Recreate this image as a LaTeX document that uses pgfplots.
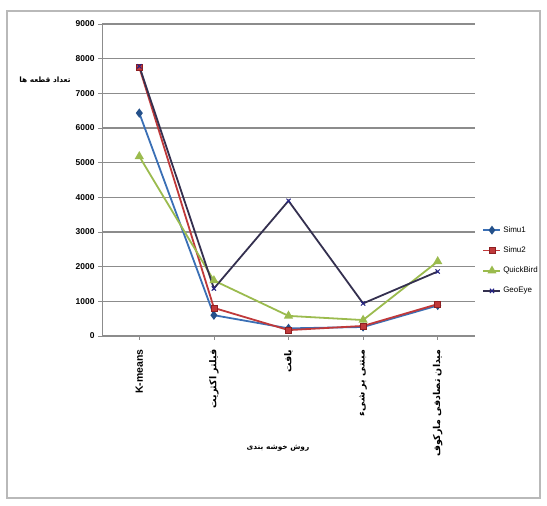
\documentclass[border=0pt]{standalone}
\usepackage{fontspec}
\setmainfont{Liberation Sans}
\newfontfamily\fa[Script=Arabic]{DejaVu Sans}
\TeXXeTstate=1
\usepackage{pgfplots}
\pgfplotsset{compat=1.18}

\definecolor{simuA}{HTML}{3A6FB5}
\definecolor{simuAm}{HTML}{24508A}
\definecolor{simuB}{HTML}{C0393A}
\definecolor{simuBm}{HTML}{8E1F22}
\definecolor{qbird}{HTML}{9BBB4E}
\definecolor{geoeye}{HTML}{34304F}
\definecolor{gridc}{HTML}{8C8C8C}

\begin{document}
\begin{tikzpicture}[x=1bp,y=1bp]
\path[use as bounding box] (0,0) rectangle (547,506);
\draw[gray!55, line width=1.3bp] (7,8) rectangle (540,495);

\begin{axis}[
  at={(102bp,170bp)}, anchor=south west,
  scale only axis, width=373bp, height=312bp,
  xmin=-0.5, xmax=4.5, ymin=0, ymax=9000,
  axis x line*=bottom, axis y line*=left,
  axis line style={gridc, line width=1bp},
  xtick={0,1,2,3,4},
  xticklabels={{\fontsize{10.5}{12}\selectfont K-means},
    {\fa\beginR فیلتر اکثریت\endR},
    {\fa\beginR بافت\endR},
    {\fa\beginR مبتنی بر شیء\endR},
    {\fa\beginR میدان تصادفی مارکوف\endR}},
  ytick={0,1000,...,9000},
  ymajorgrids, grid style={gridc, line width=1.3bp},
  tick align=outside, major tick length=4bp,
  tick style={gridc, line width=0.8bp},
  x tick label style={rotate=90, anchor=east, font=\bfseries\fontsize{9.5}{11}\selectfont},
  xticklabel shift=6bp,
  y tick label style={font=\bfseries\fontsize{8.5}{10}\selectfont},
  /pgf/number format/assume math mode=true,
  /pgf/number format/set thousands separator={},
  scaled y ticks=false,
  legend style={at={(1.02,0.242)}, anchor=west, draw=none, fill=none,
    font=\fontsize{8}{10}\selectfont, row sep=9bp,
    inner sep=0pt},
  legend cell align=left,
  legend image post style={line width=1.6bp},
  every axis plot/.append style={line width=1.8bp},
]
\addplot[simuA, mark=diamond*, mark size=3.2bp, mark options={fill=simuAm, draw=simuAm}]
  coordinates {(0,6430) (1,600) (2,220) (3,260) (4,880)};
\addlegendentry{Simu1}
\addplot[simuB, mark=square*, mark size=3bp, mark options={fill=simuB, draw=simuBm, line width=0.8bp}]
  coordinates {(0,7750) (1,810) (2,170) (3,290) (4,920)};
\addlegendentry{Simu2}
\addplot[qbird, mark=triangle*, mark size=3.6bp, mark options={fill=qbird, draw=qbird}]
  coordinates {(0,5180) (1,1600) (2,580) (3,460) (4,2150)};
\addlegendentry{QuickBird}
\addplot[geoeye, mark=x, mark size=3bp, mark options={draw=geoeye!70!blue, line width=1bp}]
  coordinates {(0,7780) (1,1370) (2,3900) (3,940) (4,1860)};
\addlegendentry{GeoEye}
\end{axis}

\node[font=\fa\bfseries\fontsize{7.4}{9}\selectfont] at (45,426) {\beginR تعداد قطعه ها\endR};
\node[font=\fa\bfseries\fontsize{7.4}{9}\selectfont] at (278,58) {\beginR روش خوشه بندی\endR};
\end{tikzpicture}
\end{document}
